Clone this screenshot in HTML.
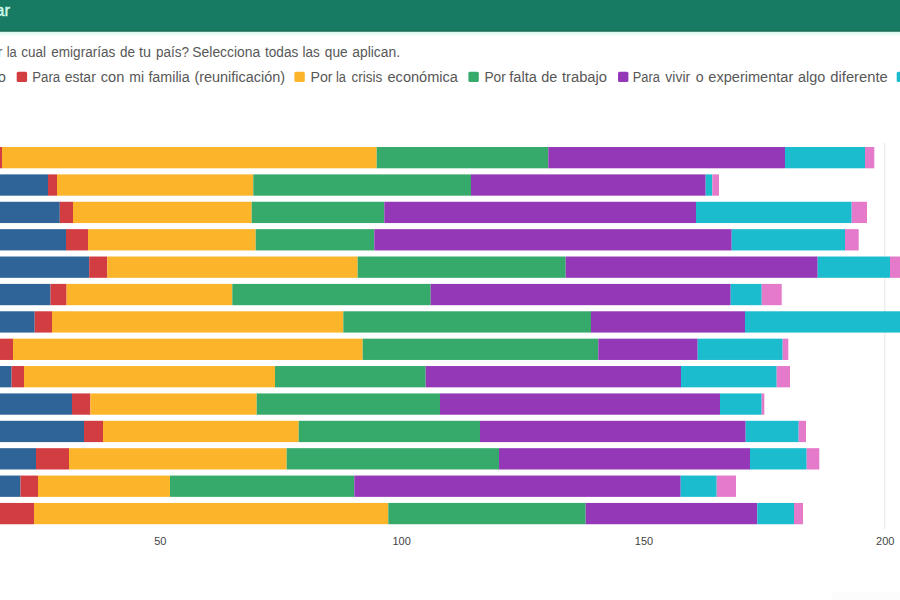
<!DOCTYPE html>
<html><head><meta charset="utf-8"><style>
html,body{margin:0;padding:0;background:#fff;width:900px;height:600px;overflow:hidden}
svg{display:block;font-family:"Liberation Sans",sans-serif}
</style></head><body>
<svg width="900" height="600" viewBox="0 0 900 600">
<rect x="0" y="0" width="900" height="600" fill="#fff"/>
<defs><linearGradient id="lb" x1="0" y1="0" x2="0" y2="1"><stop offset="0" stop-color="#d9f8ef"/><stop offset="1" stop-color="#ffffff"/></linearGradient></defs>
<rect x="0" y="0" width="900" height="31.8" fill="#167b62"/>
<rect x="0" y="30.4" width="900" height="1.4" fill="#1d6a53"/>
<rect x="0" y="31.8" width="900" height="5" fill="url(#lb)"/>
<text x="10.0" y="15.7" font-size="16.6" fill="#cff9ec" stroke="#cff9ec" stroke-width="0.45" text-anchor="end">Razones para emigrar</text>
<g font-size="14.7" fill="#575757">
<text x="6.70" y="56.8" textLength="9.99" lengthAdjust="spacingAndGlyphs">la</text><text x="21.30" y="56.8" textLength="24.71" lengthAdjust="spacingAndGlyphs">cual</text><text x="51.30" y="56.8" textLength="64.00" lengthAdjust="spacingAndGlyphs">emigrarías</text><text x="120.00" y="56.8" textLength="15.00" lengthAdjust="spacingAndGlyphs">de</text><text x="139.00" y="56.8" textLength="12.00" lengthAdjust="spacingAndGlyphs">tu</text><text x="156.00" y="56.8" textLength="33.00" lengthAdjust="spacingAndGlyphs">país?</text><text x="192.30" y="56.8" textLength="67.99" lengthAdjust="spacingAndGlyphs">Selecciona</text><text x="265.00" y="56.8" textLength="33.30" lengthAdjust="spacingAndGlyphs">todas</text><text x="302.50" y="56.8" textLength="17.20" lengthAdjust="spacingAndGlyphs">las</text><text x="324.80" y="56.8" textLength="22.81" lengthAdjust="spacingAndGlyphs">que</text><text x="352.30" y="56.8" textLength="47.70" lengthAdjust="spacingAndGlyphs">aplican.</text><text x="2.4" y="56.8" text-anchor="end">¿Cuál es la razón principal por</text>
<text x="32.20" y="82" textLength="27.99" lengthAdjust="spacingAndGlyphs">Para</text><text x="64.70" y="82" textLength="31.10" lengthAdjust="spacingAndGlyphs">estar</text><text x="100.80" y="82" textLength="23.60" lengthAdjust="spacingAndGlyphs">con</text><text x="129.30" y="82" textLength="14.70" lengthAdjust="spacingAndGlyphs">mi</text><text x="148.40" y="82" textLength="41.38" lengthAdjust="spacingAndGlyphs">familia</text><text x="194.40" y="82" textLength="90.60" lengthAdjust="spacingAndGlyphs">(reunificación)</text><text x="310.50" y="82" textLength="22.00" lengthAdjust="spacingAndGlyphs">Por</text><text x="336.00" y="82" textLength="9.99" lengthAdjust="spacingAndGlyphs">la</text><text x="351.50" y="82" textLength="30.70" lengthAdjust="spacingAndGlyphs">crisis</text><text x="387.50" y="82" textLength="70.48" lengthAdjust="spacingAndGlyphs">económica</text><text x="484.40" y="82" textLength="21.40" lengthAdjust="spacingAndGlyphs">Por</text><text x="509.30" y="82" textLength="27.59" lengthAdjust="spacingAndGlyphs">falta</text><text x="541.30" y="82" textLength="16.10" lengthAdjust="spacingAndGlyphs">de</text><text x="562.00" y="82" textLength="44.99" lengthAdjust="spacingAndGlyphs">trabajo</text><text x="632.70" y="82" textLength="27.19" lengthAdjust="spacingAndGlyphs">Para</text><text x="665.30" y="82" textLength="24.91" lengthAdjust="spacingAndGlyphs">vivir</text><text x="695.70" y="82" textLength="7.90" lengthAdjust="spacingAndGlyphs">o</text><text x="708.30" y="82" textLength="85.00" lengthAdjust="spacingAndGlyphs">experimentar</text><text x="798.00" y="82" textLength="27.29" lengthAdjust="spacingAndGlyphs">algo</text><text x="830.30" y="82" textLength="57.49" lengthAdjust="spacingAndGlyphs">diferente</text><rect x="16.7" y="71.7" width="10.4" height="10.4" rx="1.5" fill="#d23d42"/><rect x="294.4" y="71.7" width="10.4" height="10.4" rx="1.5" fill="#fcb52a"/><rect x="468.4" y="71.7" width="10.4" height="10.4" rx="1.5" fill="#36aa6b"/><rect x="618.0" y="71.7" width="10.4" height="10.4" rx="1.5" fill="#9438b8"/><rect x="896.7" y="71.7" width="10.4" height="10.4" rx="1.5" fill="#1cbccf"/><text x="5.8" y="82" text-anchor="end">o</text>
</g>
<line x1="884.8" y1="143" x2="884.8" y2="529" stroke="#e6e6e6" stroke-width="1"/>
<rect x="-81.50" y="147.00" width="76.50" height="21.3" fill="#2e6498"/><rect x="-5.00" y="147.00" width="7.00" height="21.3" fill="#d23d42"/><rect x="2.00" y="147.00" width="374.70" height="21.3" fill="#fcb52a"/><rect x="376.70" y="147.00" width="171.60" height="21.3" fill="#36aa6b"/><rect x="548.30" y="147.00" width="236.70" height="21.3" fill="#9438b8"/><rect x="785.00" y="147.00" width="80.00" height="21.3" fill="#1cbccf"/><rect x="865.00" y="147.00" width="9.30" height="21.3" fill="#e579ca"/><rect x="-81.50" y="174.38" width="129.50" height="21.3" fill="#2e6498"/><rect x="48.00" y="174.38" width="9.00" height="21.3" fill="#d23d42"/><rect x="57.00" y="174.38" width="196.30" height="21.3" fill="#fcb52a"/><rect x="253.30" y="174.38" width="217.70" height="21.3" fill="#36aa6b"/><rect x="471.00" y="174.38" width="234.70" height="21.3" fill="#9438b8"/><rect x="705.70" y="174.38" width="6.60" height="21.3" fill="#1cbccf"/><rect x="712.30" y="174.38" width="6.70" height="21.3" fill="#e579ca"/><rect x="-81.50" y="201.76" width="141.30" height="21.3" fill="#2e6498"/><rect x="59.80" y="201.76" width="13.20" height="21.3" fill="#d23d42"/><rect x="73.00" y="201.76" width="178.70" height="21.3" fill="#fcb52a"/><rect x="251.70" y="201.76" width="132.60" height="21.3" fill="#36aa6b"/><rect x="384.30" y="201.76" width="311.70" height="21.3" fill="#9438b8"/><rect x="696.00" y="201.76" width="155.70" height="21.3" fill="#1cbccf"/><rect x="851.70" y="201.76" width="15.30" height="21.3" fill="#e579ca"/><rect x="-81.50" y="229.14" width="147.50" height="21.3" fill="#2e6498"/><rect x="66.00" y="229.14" width="22.00" height="21.3" fill="#d23d42"/><rect x="88.00" y="229.14" width="167.70" height="21.3" fill="#fcb52a"/><rect x="255.70" y="229.14" width="118.60" height="21.3" fill="#36aa6b"/><rect x="374.30" y="229.14" width="357.40" height="21.3" fill="#9438b8"/><rect x="731.70" y="229.14" width="113.30" height="21.3" fill="#1cbccf"/><rect x="845.00" y="229.14" width="13.70" height="21.3" fill="#e579ca"/><rect x="-81.50" y="256.52" width="170.70" height="21.3" fill="#2e6498"/><rect x="89.20" y="256.52" width="18.10" height="21.3" fill="#d23d42"/><rect x="107.30" y="256.52" width="250.40" height="21.3" fill="#fcb52a"/><rect x="357.70" y="256.52" width="208.00" height="21.3" fill="#36aa6b"/><rect x="565.70" y="256.52" width="252.00" height="21.3" fill="#9438b8"/><rect x="817.70" y="256.52" width="72.30" height="21.3" fill="#1cbccf"/><rect x="890.00" y="256.52" width="15.00" height="21.3" fill="#e579ca"/><rect x="-81.50" y="283.90" width="132.00" height="21.3" fill="#2e6498"/><rect x="50.50" y="283.90" width="16.10" height="21.3" fill="#d23d42"/><rect x="66.60" y="283.90" width="165.70" height="21.3" fill="#fcb52a"/><rect x="232.30" y="283.90" width="198.40" height="21.3" fill="#36aa6b"/><rect x="430.70" y="283.90" width="300.00" height="21.3" fill="#9438b8"/><rect x="730.70" y="283.90" width="31.00" height="21.3" fill="#1cbccf"/><rect x="761.70" y="283.90" width="20.00" height="21.3" fill="#e579ca"/><rect x="-81.50" y="311.28" width="116.20" height="21.3" fill="#2e6498"/><rect x="34.70" y="311.28" width="17.30" height="21.3" fill="#d23d42"/><rect x="52.00" y="311.28" width="291.30" height="21.3" fill="#fcb52a"/><rect x="343.30" y="311.28" width="247.70" height="21.3" fill="#36aa6b"/><rect x="591.00" y="311.28" width="154.00" height="21.3" fill="#9438b8"/><rect x="745.00" y="311.28" width="165.00" height="21.3" fill="#1cbccf"/><rect x="910.00" y="311.28" width="10.00" height="21.3" fill="#e579ca"/><rect x="-81.50" y="338.66" width="80.50" height="21.3" fill="#2e6498"/><rect x="-1.00" y="338.66" width="14.00" height="21.3" fill="#d23d42"/><rect x="13.00" y="338.66" width="349.70" height="21.3" fill="#fcb52a"/><rect x="362.70" y="338.66" width="235.60" height="21.3" fill="#36aa6b"/><rect x="598.30" y="338.66" width="99.40" height="21.3" fill="#9438b8"/><rect x="697.70" y="338.66" width="85.00" height="21.3" fill="#1cbccf"/><rect x="782.70" y="338.66" width="5.60" height="21.3" fill="#e579ca"/><rect x="-81.50" y="366.04" width="93.10" height="21.3" fill="#2e6498"/><rect x="11.60" y="366.04" width="12.40" height="21.3" fill="#d23d42"/><rect x="24.00" y="366.04" width="251.00" height="21.3" fill="#fcb52a"/><rect x="275.00" y="366.04" width="150.70" height="21.3" fill="#36aa6b"/><rect x="425.70" y="366.04" width="255.30" height="21.3" fill="#9438b8"/><rect x="681.00" y="366.04" width="95.70" height="21.3" fill="#1cbccf"/><rect x="776.70" y="366.04" width="13.30" height="21.3" fill="#e579ca"/><rect x="-81.50" y="393.42" width="153.50" height="21.3" fill="#2e6498"/><rect x="72.00" y="393.42" width="18.40" height="21.3" fill="#d23d42"/><rect x="90.40" y="393.42" width="166.30" height="21.3" fill="#fcb52a"/><rect x="256.70" y="393.42" width="183.30" height="21.3" fill="#36aa6b"/><rect x="440.00" y="393.42" width="280.00" height="21.3" fill="#9438b8"/><rect x="720.00" y="393.42" width="41.70" height="21.3" fill="#1cbccf"/><rect x="761.70" y="393.42" width="2.60" height="21.3" fill="#e579ca"/><rect x="-81.50" y="420.80" width="165.50" height="21.3" fill="#2e6498"/><rect x="84.00" y="420.80" width="19.00" height="21.3" fill="#d23d42"/><rect x="103.00" y="420.80" width="195.70" height="21.3" fill="#fcb52a"/><rect x="298.70" y="420.80" width="181.30" height="21.3" fill="#36aa6b"/><rect x="480.00" y="420.80" width="265.70" height="21.3" fill="#9438b8"/><rect x="745.70" y="420.80" width="53.00" height="21.3" fill="#1cbccf"/><rect x="798.70" y="420.80" width="7.30" height="21.3" fill="#e579ca"/><rect x="-81.50" y="448.18" width="117.50" height="21.3" fill="#2e6498"/><rect x="36.00" y="448.18" width="33.00" height="21.3" fill="#d23d42"/><rect x="69.00" y="448.18" width="217.70" height="21.3" fill="#fcb52a"/><rect x="286.70" y="448.18" width="212.30" height="21.3" fill="#36aa6b"/><rect x="499.00" y="448.18" width="251.00" height="21.3" fill="#9438b8"/><rect x="750.00" y="448.18" width="56.70" height="21.3" fill="#1cbccf"/><rect x="806.70" y="448.18" width="12.60" height="21.3" fill="#e579ca"/><rect x="-81.50" y="475.56" width="102.00" height="21.3" fill="#2e6498"/><rect x="20.50" y="475.56" width="17.50" height="21.3" fill="#d23d42"/><rect x="38.00" y="475.56" width="132.00" height="21.3" fill="#fcb52a"/><rect x="170.00" y="475.56" width="184.30" height="21.3" fill="#36aa6b"/><rect x="354.30" y="475.56" width="326.40" height="21.3" fill="#9438b8"/><rect x="680.70" y="475.56" width="36.00" height="21.3" fill="#1cbccf"/><rect x="716.70" y="475.56" width="19.30" height="21.3" fill="#e579ca"/><rect x="-81.50" y="502.94" width="80.50" height="21.3" fill="#2e6498"/><rect x="-1.00" y="502.94" width="35.00" height="21.3" fill="#d23d42"/><rect x="34.00" y="502.94" width="354.30" height="21.3" fill="#fcb52a"/><rect x="388.30" y="502.94" width="197.40" height="21.3" fill="#36aa6b"/><rect x="585.70" y="502.94" width="171.60" height="21.3" fill="#9438b8"/><rect x="757.30" y="502.94" width="36.70" height="21.3" fill="#1cbccf"/><rect x="794.00" y="502.94" width="9.00" height="21.3" fill="#e579ca"/>
<rect x="832" y="592" width="68" height="8" fill="#fcfcfc"/>
<g font-size="11" fill="#444" text-anchor="middle">
<text x="160.3" y="544.8">50</text>
<text x="401.6" y="544.8">100</text>
<text x="644" y="544.8">150</text>
<text x="885.3" y="544.8">200</text>
</g>
</svg>
</body></html>
